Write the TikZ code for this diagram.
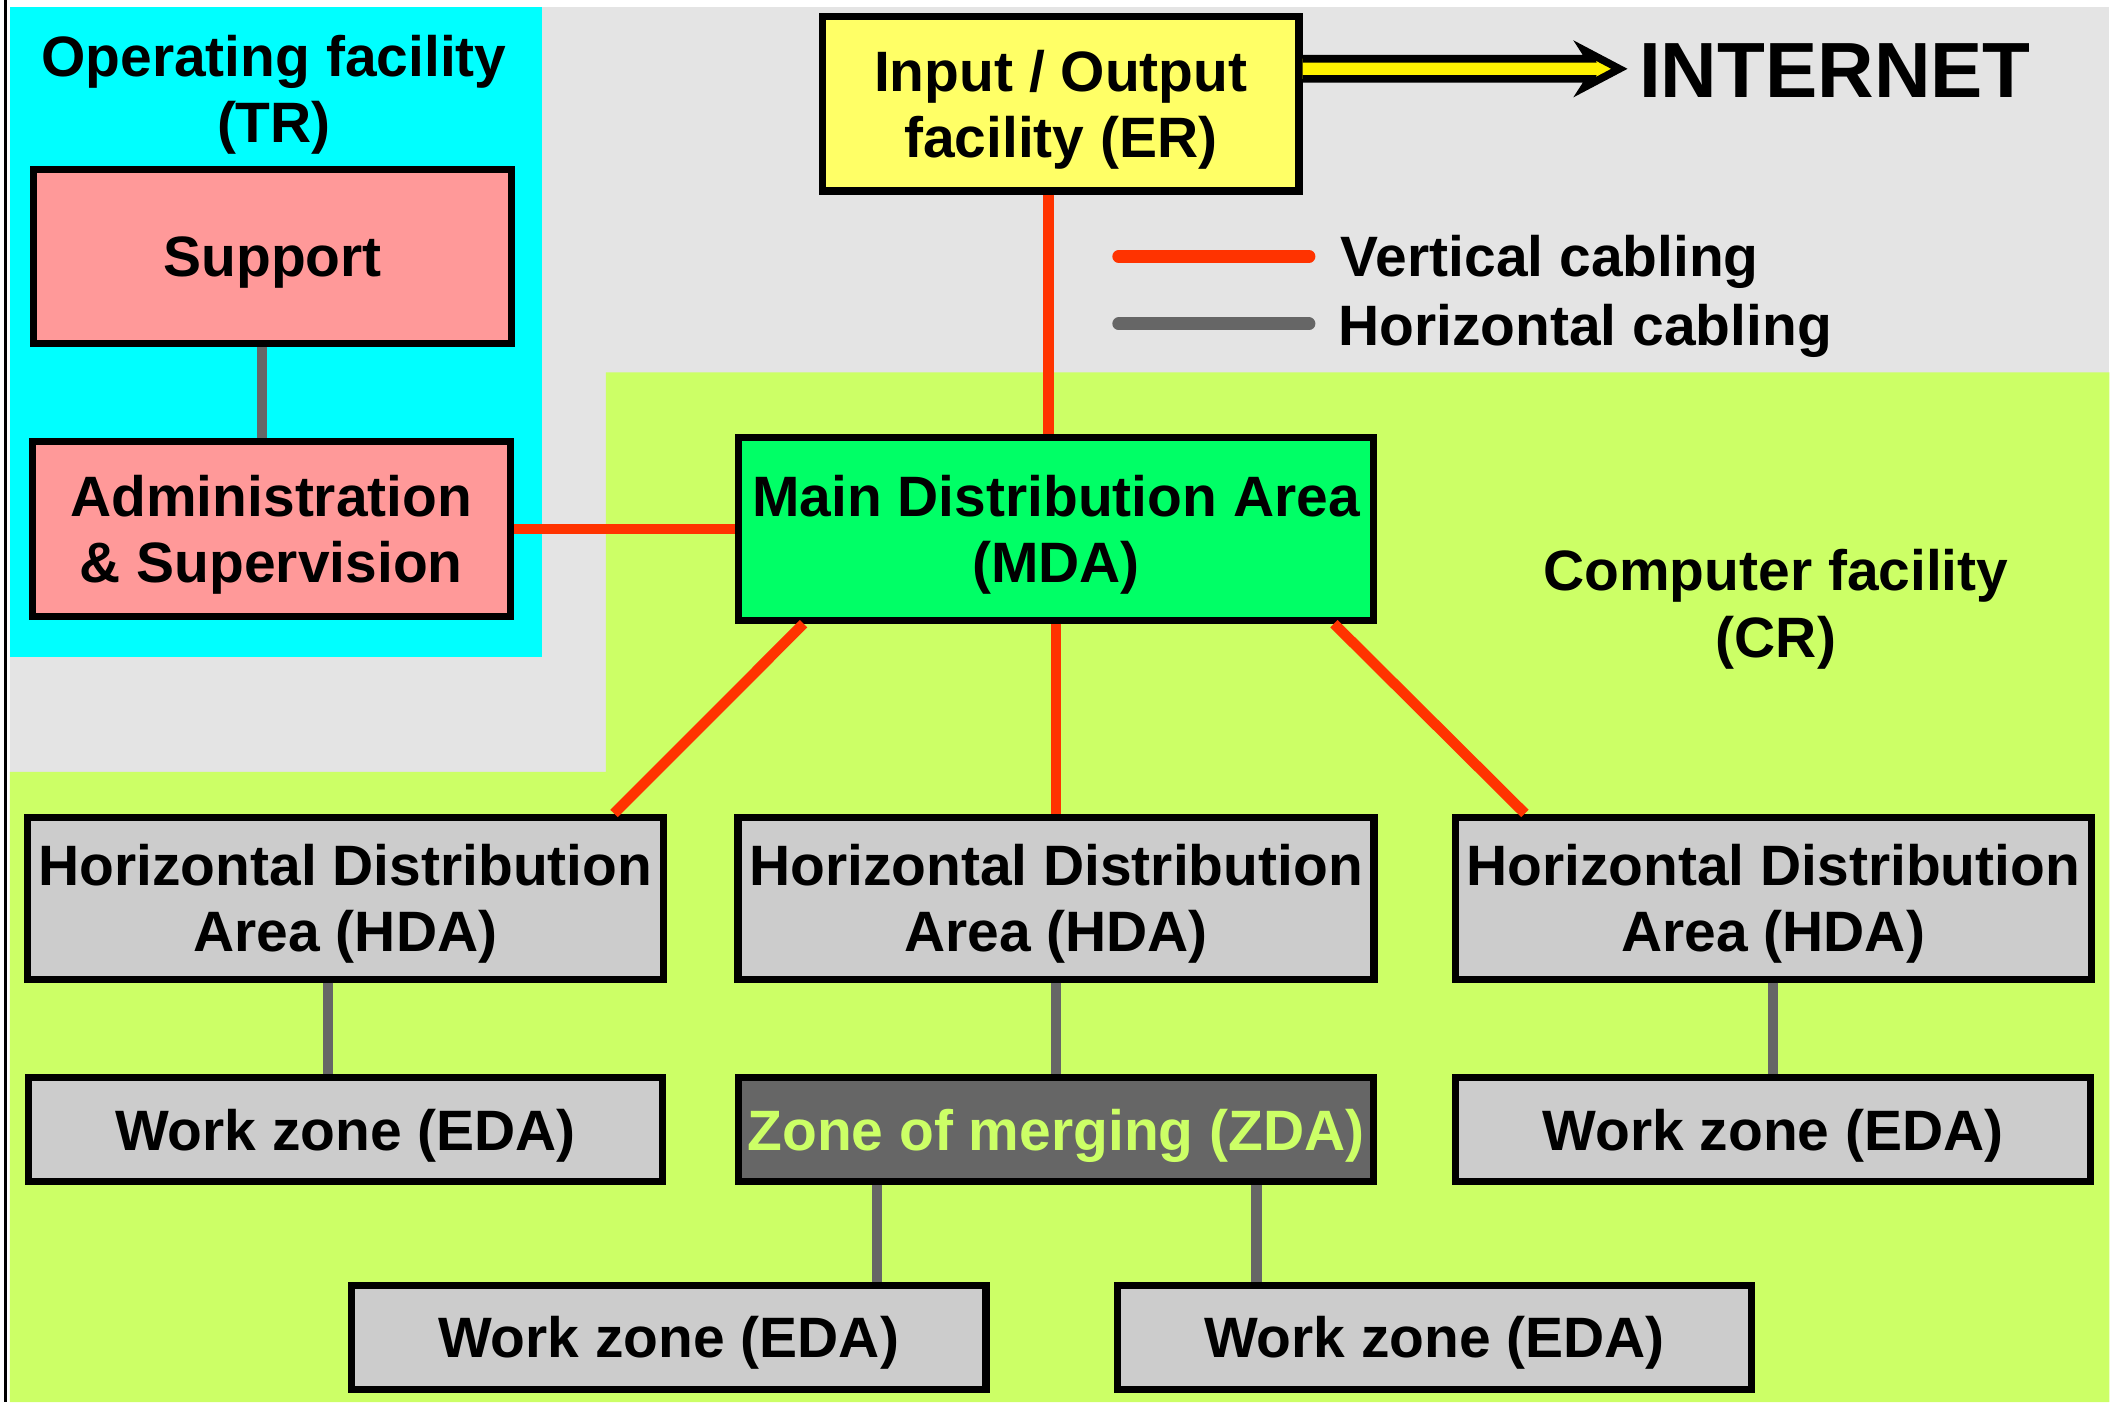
\documentclass[tikz,border=0pt]{standalone}
\usepackage{fontspec}
\setmainfont{Liberation Sans}
\usepackage{tikz}
\usetikzlibrary{calc}
\definecolor{bggrey}{HTML}{E4E4E4}
\definecolor{trcyan}{HTML}{00FFFF}
\definecolor{crgreen}{HTML}{CCFF66}
\definecolor{trpink}{HTML}{FF9999}
\definecolor{eryellow}{HTML}{FFFF66}
\definecolor{mdagreen}{HTML}{00FF66}
\definecolor{hdagrey}{HTML}{CCCCCC}
\definecolor{zdagrey}{HTML}{666666}
\definecolor{vred}{HTML}{FF3300}
\definecolor{hgrey}{HTML}{666666}
\tikzset{
  lbl/.style={font=\fontsize{12}{14}\selectfont\bfseries,align=center,inner sep=1pt,text depth=0pt},
  room/.style={lbl,rectangle,draw=black,line width=1.5pt},
  trbox/.style={room,fill=trpink,minimum width=3.54cm,minimum height=1.29cm},
  erbox/.style={room,fill=eryellow,minimum width=3.53cm,minimum height=1.29cm},
  mdabox/.style={room,fill=mdagreen,minimum width=4.70cm,minimum height=1.35cm},
  hdabox/.style={room,fill=hdagrey,minimum width=4.71cm,minimum height=1.20cm},
  edabox/.style={room,fill=hdagrey,minimum width=4.70cm,minimum height=0.77cm},
  zdabox/.style={room,fill=zdagrey,text=crgreen,minimum width=4.70cm,minimum height=0.77cm},
  vcab/.style={draw=vred,line width=2.2pt},
  hcab/.style={draw=hgrey,line width=2.2pt},
  legline/.style={line width=2.7pt,line cap=round}
}
\begin{document}
\begin{tikzpicture}[x=0.01cm,y=-0.01cm]
\useasboundingbox (0,0) rectangle (1568,1039);
\fill[white] (0,0) rectangle (1568,1039);
\draw[line width=0.6pt] (4,0) -- (4,1039);
\fill[bggrey] (7.4,5) rectangle (1563,1039);
\fill[trcyan] (7.4,5) rectangle (402,487);
\fill[crgreen] (449,276) -- (1563,276) -- (1563,1039) -- (7.4,1039) -- (7.4,572) -- (449,572) -- cycle;

\node[lbl] (trlbl) at (203,66) {Operating facility\\(TR)};
\node[lbl] (crlbl) at (1316,447) {Computer facility\\(CR)};

\node[trbox] (sup) at (202,190) {Support};
\node[trbox] (adm) at (201,392) {Administration\\\& Supervision};
\node[erbox] (io) at (786,77) {Input / Output\\facility (ER)};
\node[mdabox] (mda) at (782.5,392) {Main Distribution Area\\(MDA)};
\node[hdabox] (hda1) at (256,665.5) {Horizontal Distribution\\Area (HDA)};
\node[hdabox] (hda2) at (782.5,665.5) {Horizontal Distribution\\Area (HDA)};
\node[hdabox] (hda3) at (1314,665.5) {Horizontal Distribution\\Area (HDA)};
\node[edabox] (eda1) at (256,837) {Work zone (EDA)};
\node[zdabox] (zda) at (782.5,837) {Zone of merging (ZDA)};
\node[edabox] (eda2) at (1314,837) {Work zone (EDA)};
\node[edabox] (eda3) at (495.5,991) {Work zone (EDA)};
\node[edabox] (eda4) at (1063,991) {Work zone (EDA)};

\node[font=\fontsize{16.5}{18}\selectfont\bfseries,inner sep=0pt,anchor=west] (inet) at (1214,52) {INTERNET};
\coordinate (ar0) at ($(io.east)+(0,-26)$);
\coordinate (ar1) at ($(inet.west |- ar0)+(-14,0)$);
\filldraw[fill=yellow,draw=black,line width=1.6pt]
  ($(ar0)+(0,-7.5)$) -- ($(ar1)+(-22,-7.5)$) -- ($(ar1)+(-26,-13.7)$) -- (ar1)
  -- ($(ar1)+(-26,13.7)$) -- ($(ar1)+(-22,7.5)$) -- ($(ar0)+(0,7.5)$);

\node[lbl,anchor=base west,inner sep=0pt] (lv) at (993,205) {Vertical cabling};
\node[lbl,anchor=base west,inner sep=0pt] (lh) at (991,256) {Horizontal cabling};
\draw[legline,draw=vred] ($(lv.base west)+(-164,-15)$) -- ++(141,0);
\draw[legline,draw=hgrey] ($(lh.base west)+(-162,-16)$) -- ++(141,0);

\draw[hcab] ($(sup.south)+(-8,0)$) -- ($(adm.north)+(-7,0)$);
\draw[vcab] ($(io.south)+(-9,0)$) -- ($(mda.north)+(-5.5,0)$);
\draw[vcab] (adm.east) -- (adm.east -| mda.west);
\draw[vcab] ($(mda.south)+(-187,0)$) -- ($(hda1.north)+(199,0)$);
\draw[vcab] (mda.south) -- (hda2.north);
\draw[vcab] ($(mda.south)+(206,0)$) -- ($(hda3.north)+(-184,0)$);
\draw[hcab] ($(hda1.south)+(-13,0)$) -- ($(eda1.north)+(-13,0)$);
\draw[hcab] (hda2.south) -- (zda.north);
\draw[hcab] (hda3.south) -- (eda2.north);
\draw[hcab] ($(zda.south)+(-132.5,0)$) -- ($(eda3.north)+(154.5,0)$);
\draw[hcab] ($(zda.south)+(148.5,0)$) -- ($(eda4.north)+(-132,0)$);
\end{tikzpicture}
\end{document}
